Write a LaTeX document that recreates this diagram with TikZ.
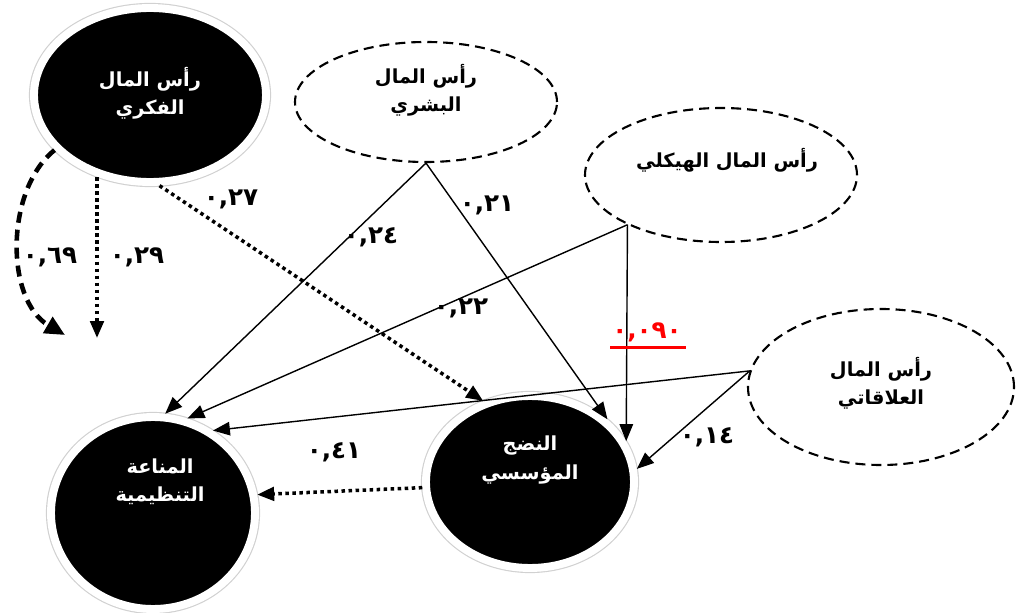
\documentclass[tikz,border=0pt]{standalone}
\usepackage{fontspec}
\newfontfamily\arabicfont[Script=Arabic]{DejaVu Sans}
\TeXXeTstate=1
\usetikzlibrary{shapes.geometric}
\usetikzlibrary{arrows.meta}
\tikzset{
  factor/.style={
    % The shape:
    ellipse,
    % The border: a white ring with a soft grey edge
    preaction={draw=black!18,line width=5.8pt},
    line width=4.5pt,draw=white,
    fill=black
  }}
\tikzset{
  latent/.style={
    % The shape:
    ellipse,
    % The border:
    very thick,draw=black,dash pattern=on 2mm off 1.2mm,
    fill=white}}
\tikzset{
  ar/.style={font=\arabicfont\bfseries\fontsize{11}{16}\selectfont,align=center},
  coef/.style={font=\arabicfont\bfseries\fontsize{14}{16}\selectfont,inner sep=0pt},
  link/.style={->,thick},
  dotlink/.style={->,line width=2pt,dash pattern=on 2pt off 2pt},
  dashlink/.style={-{Triangle[length=4mm,width=3.6mm]},line width=2.6pt,
    dash pattern=on 2.2mm off 1.4mm}}

\begin{document}
\begin{tikzpicture}[x=0.2mm,y=-0.2mm,>={Triangle[length=3.4mm,width=2.7mm]}]
	\useasboundingbox (0,0) rectangle (1016,613);
	% The latent variables
	\node[latent,minimum width=52.4mm,minimum height=24mm,
		label={[ar,name=bashari-t,yshift=2.4mm]center:\beginR رأس المال\endR\\\beginR البشري\endR}]
		(bashari) at (426,102) {};
	\node[latent,minimum width=54.4mm,minimum height=26.8mm,
		label={[ar,name=haykali-t,xshift=1.2mm,yshift=3mm]center:\beginR رأس المال الهيكلي\endR}]
		(haykali) at (721,175) {};
	\node[latent,minimum width=53.2mm,minimum height=31.2mm,
		label={[ar,name=alaqati-t,yshift=0.8mm]center:\beginR رأس المال\endR\\\beginR العلاقاتي\endR}]
		(alaqati) at (881,387) {};
	% The black factors
	\node[factor,minimum width=46.4mm,minimum height=34.8mm,
		label={[ar,text=white,name=fikri-t,yshift=0.4mm]center:\beginR رأس المال\endR\\\beginR الفكري\endR}]
		(fikri) at (150,95) {};
	\node[factor,minimum width=40.8mm,minimum height=38.4mm,
		label={[ar,text=white,name=manaa-t,xshift=1.4mm,yshift=6.2mm]center:\beginR المناعة\endR\\\beginR التنظيمية\endR}]
		(manaa) at (153,513) {};
	\node[factor,minimum width=41.6mm,minimum height=34.4mm,
		label={[ar,text=white,name=nudj-t,yshift=4.4mm]center:\beginR النضج\endR\\\beginR المؤسسي\endR}]
		(nudj) at (530,482) {};
	% Free ends
	\coordinate (fikri-end) at (97,338);
	\coordinate (curve-end) at (65,335);
	% Lines out of bashari
	\draw[link] (bashari.south) -- (manaa.83);
	\draw[link] (bashari.south) -- (nudj.39);
	% Lines out of haykali
	\draw[link] (haykali.208) -- (manaa.70);
	\draw[link] (haykali.208) -- (nudj.23);
	% Lines out of alaqati
	\draw[link] (alaqati.173) -- (manaa.54);
	\draw[link] (alaqati.173) -- (nudj.7);
	% Lines out of fikri
	\draw[dotlink] (fikri-end |- fikri.238) -- (fikri-end);
	\draw[dotlink] (fikri.276) -- (nudj.120);
	\draw[dashlink] (fikri.210) .. controls (5,190) and (5,300) .. (curve-end);
	% Line out of nudj
	\draw[dotlink] (nudj.183) -- (manaa.10);
	% The coefficients
	\node[coef] (c27) at (231,199) {٠,٢٧};
	\node[coef] (c24) at (371,237) {٠,٢٤};
	\node[coef] (c21) at (487,205) {٠,٢١};
	\node[coef] (c22) at (461,308) {٠,٢٢};
	\node[coef,text=red] (c090) at (647,332) {٠,٠٩٠};
	\draw[red,line width=0.6mm] (610,347) -- (686,347);
	\node[coef] (c14) at (707,437) {٠,١٤};
	\node[coef] (c41) at (334,452) {٠,٤١};
	\node[coef] (c69) at (50,257) {٠,٦٩};
	\node[coef] (c29) at (137,257) {٠,٢٩};
\end{tikzpicture}
\end{document}
